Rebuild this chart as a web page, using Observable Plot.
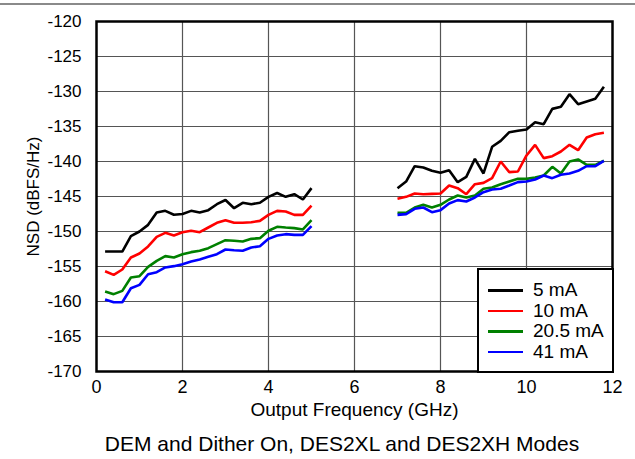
<!DOCTYPE html>
<html>
<head>
<meta charset="utf-8">
<script src="https://cdn.jsdelivr.net/npm/d3@7"></script>
<script src="https://cdn.jsdelivr.net/npm/@observablehq/plot@0.6"></script>
<style>
  html, body { margin: 0; padding: 0; background: #fff; }
  body { width: 635px; height: 459px; overflow: hidden; font-family: "Liberation Sans", Arial, sans-serif; }
  #wrap { position: relative; width: 635px; height: 459px; }
  #topline { position: absolute; left: 0; top: 3px; width: 635px; height: 2px; background: #8a8a8a; }
  #chart { position: absolute; left: 0; top: 0; }
  #caption { position: absolute; left: 0; top: 432px; width: 684px; text-align: center; font-size: 21px; line-height: 24px; color: #000; }
  #legend { position: absolute; left: 477px; top: 268px; width: 133px; height: 101px; border: 2px solid #000; background: #fff; }
  .row { position: absolute; left: 0; height: 22px; line-height: 22px; font-size: 19px; color: #000; }
  .sw { position: absolute; left: 9px; top: 10px; width: 35px; height: 2.5px; }
  .lt { position: absolute; left: 54px; top: 0; white-space: nowrap; }
</style>
</head>
<body>
<div id="wrap">
  <div id="chart"></div>
  <div id="topline"></div>
  <div id="legend"></div>
  <div id="caption">DEM and Dither On, DES2XL and DES2XH Modes</div>
</div>
<script>
// ---- Data ----
const seriesNames = ["5 mA", "10 mA", "20.5 mA", "41 mA"];
const seriesColors = ["#000000", "#ff0000", "#008000", "#0000ff"];

const freqLow = [0.2, 0.4, 0.6, 0.8, 1.0, 1.2, 1.4, 1.6, 1.8, 2.0, 2.2, 2.4, 2.6, 2.8, 3.0, 3.2, 3.4, 3.6, 3.8, 4.0, 4.2, 4.4, 4.6, 4.8, 5.0];
const freqHigh = [7.0, 7.2, 7.4, 7.6, 7.8, 8.0, 8.2, 8.4, 8.6, 8.8, 9.0, 9.2, 9.4, 9.6, 9.8, 10.0, 10.2, 10.4, 10.6, 10.8, 11.0, 11.2, 11.4, 11.6, 11.8];

const ma5Low = [-152.86, -152.86, -152.86, -150.67, -150.0, -149.05, -147.3, -147.05, -147.6, -147.5, -147.05, -147.3, -146.95, -146.1, -145.5, -146.67, -145.9, -146.1, -145.9, -145.05, -144.5, -145.05, -144.67, -145.43, -143.8];
const ma5High = [-143.81, -142.86, -140.67, -140.86, -141.33, -141.62, -141.24, -142.95, -142.19, -139.62, -141.71, -137.9, -137.05, -135.81, -135.62, -135.43, -134.38, -134.67, -132.48, -132.19, -130.38, -131.81, -131.43, -131.05, -129.33];

const ma10Low = [-155.67, -156.19, -155.43, -153.71, -153.14, -152.14, -150.76, -150.19, -150.57, -150.1, -149.9, -150.1, -149.43, -148.76, -148.38, -148.76, -148.76, -148.67, -148.48, -147.62, -147.05, -147.14, -147.62, -147.62, -146.29];
const ma10High = [-145.33, -145.05, -144.57, -144.67, -144.62, -144.57, -143.43, -143.81, -144.67, -143.24, -143.05, -142.38, -140.0, -141.52, -141.43, -139.14, -137.62, -139.52, -139.24, -138.57, -137.62, -138.38, -136.57, -136.1, -135.9];

const ma20Low = [-158.57, -158.95, -158.48, -156.57, -156.38, -155.05, -154.19, -153.52, -153.71, -153.24, -152.95, -152.76, -152.38, -151.81, -151.24, -151.33, -151.43, -151.05, -150.95, -149.9, -149.33, -149.43, -149.52, -149.71, -148.38];
const ma20High = [-147.33, -147.33, -146.57, -146.19, -146.57, -146.19, -145.43, -144.86, -145.14, -144.86, -143.9, -143.71, -143.24, -142.86, -142.48, -142.48, -142.29, -142.0, -140.76, -141.71, -140.0, -139.71, -140.48, -140.48, -139.9];

const ma41Low = [-159.71, -160.1, -160.1, -158.1, -157.62, -156.1, -155.81, -155.14, -154.95, -154.67, -154.29, -154.0, -153.62, -153.24, -152.57, -152.67, -152.76, -152.29, -152.1, -151.05, -150.57, -150.38, -150.48, -150.48, -149.24];
const ma41High = [-147.62, -147.52, -146.76, -146.57, -147.24, -146.95, -146.0, -145.52, -145.71, -145.14, -144.38, -144.0, -143.9, -143.43, -142.95, -142.86, -142.57, -142.0, -142.38, -141.9, -141.71, -141.33, -140.67, -140.67, -139.9];

const xTicks = [0, 2, 4, 6, 8, 10, 12];
const yTicks = [-170, -165, -160, -155, -150, -145, -140, -135, -130, -125, -120];

// ---- Build table ----
const lowSets = [ma5Low, ma10Low, ma20Low, ma41Low];
const highSets = [ma5High, ma10High, ma20High, ma41High];
const rows = [];
seriesNames.forEach((name, i) => {
  freqLow.forEach((f, j) => rows.push({series: name, seg: name + "-L", f, v: lowSets[i][j]}));
  freqHigh.forEach((f, j) => rows.push({series: name, seg: name + "-H", f, v: highSets[i][j]}));
});

const chart = Plot.plot({
  width: 635,
  height: 425,
  marginTop: 21,
  marginBottom: 54,
  marginLeft: 96,
  marginRight: 23,
  style: {fontFamily: "'Liberation Sans', Arial, sans-serif", color: "#000", background: "#fff"},
  x: {domain: [0, 12]},
  y: {domain: [-170, -120]},
  color: {domain: seriesNames, range: seriesColors},
  marks: [
    Plot.gridX(xTicks.slice(1, -1), {stroke: "#555", strokeOpacity: 1, strokeWidth: 1.2}),
    Plot.gridY(yTicks.slice(1, -1), {stroke: "#555", strokeOpacity: 1, strokeWidth: 1.2}),
    Plot.axisX(xTicks, {tickSize: 0, tickPadding: 9, tickFormat: d => String(d), label: "Output Frequency (GHz)", labelAnchor: "center", labelOffset: 44, labelArrow: "none"}),
    Plot.axisY(yTicks, {tickSize: 0, tickPadding: 15, tickFormat: d => String(d), label: "NSD (dBFS/Hz)", labelAnchor: "center", labelOffset: 70, labelArrow: "none"}),
    Plot.line(rows, {x: "f", y: "v", z: "seg", stroke: "series", strokeWidth: 2.6, strokeLinejoin: "miter", strokeLinecap: "butt"}),
    Plot.frame({stroke: "#000", strokeWidth: 2.5})
  ]
});
document.getElementById("chart").appendChild(chart);

// Font sizes applied inline so they win over Plot's defaults
const setSize = (label, size) =>
  d3.select(chart).selectAll(`g[aria-label="${label}"]`).attr("font-size", null)
    .selectAll("text").style("font-size", size);
setSize("x-axis tick label", "18px");
setSize("y-axis tick label", "17px");
setSize("x-axis label", "19px");
setSize("y-axis label", "17px");

// ---- Legend ----
const legend = document.getElementById("legend");
seriesNames.forEach((name, i) => {
  const r = document.createElement("div");
  r.className = "row";
  r.style.top = (9 + i * 20.6) + "px";
  r.innerHTML = `<div class="sw" style="background:${seriesColors[i]}"></div><div class="lt">${name}</div>`;
  legend.appendChild(r);
});
</script>
</body>
</html>
